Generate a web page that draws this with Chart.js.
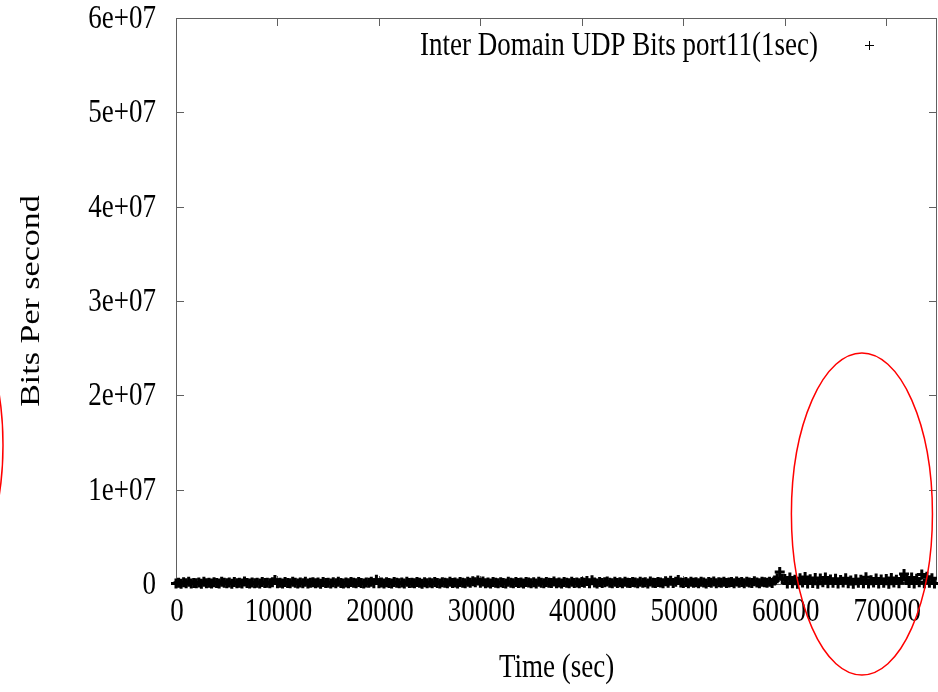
<!DOCTYPE html>
<html>
<head>
<meta charset="utf-8">
<script src="https://cdn.jsdelivr.net/npm/chart.js@4.4.1/dist/chart.umd.min.js"></script>
<style>
  html, body { margin: 0; padding: 0; background: #fff; }
  #wrap { width: 938px; height: 692px; }
</style>
</head>
<body>
<div id="wrap"><canvas id="udp-chart" width="938" height="692"></canvas></div>
<script>
var seriesLabel = "Inter Domain UDP Bits port11(1sec)";
var xTitle = "Time (sec)";
var yTitle = "Bits Per second";

// sample times (sec)
var times = [
  0,250,500,750,1000,1250,1500,1750,2000,2250,2500,2750,3000,3250,3500,3750,4000,4250,4500,4750,
  5000,5250,5500,5750,6000,6250,6500,6750,7000,7250,7500,7750,8000,8250,8500,8750,9000,9250,9500,9750,
  10000,10250,10500,10750,11000,11250,11500,11750,12000,12250,12500,12750,13000,13250,13500,13750,14000,14250,14500,14750,
  15000,15250,15500,15750,16000,16250,16500,16750,17000,17250,17500,17750,18000,18250,18500,18750,19000,19250,19500,19750,
  20000,20250,20500,20750,21000,21250,21500,21750,22000,22250,22500,22750,23000,23250,23500,23750,24000,24250,24500,24750,
  25000,25250,25500,25750,26000,26250,26500,26750,27000,27250,27500,27750,28000,28250,28500,28750,29000,29250,29500,29750,
  30000,30250,30500,30750,31000,31250,31500,31750,32000,32250,32500,32750,33000,33250,33500,33750,34000,34250,34500,34750,
  35000,35250,35500,35750,36000,36250,36500,36750,37000,37250,37500,37750,38000,38250,38500,38750,39000,39250,39500,39750,
  40000,40250,40500,40750,41000,41250,41500,41750,42000,42250,42500,42750,43000,43250,43500,43750,44000,44250,44500,44750,
  45000,45250,45500,45750,46000,46250,46500,46750,47000,47250,47500,47750,48000,48250,48500,48750,49000,49250,49500,49750,
  50000,50250,50500,50750,51000,51250,51500,51750,52000,52250,52500,52750,53000,53250,53500,53750,54000,54250,54500,54750,
  55000,55250,55500,55750,56000,56250,56500,56750,57000,57250,57500,57750,58000,58250,58500,58750,59000,59250,59500,59750,
  60000,60250,60500,60750,61000,61250,61500,61750,62000,62250,62500,62750,63000,63250,63500,63750,64000,64250,64500,64750,
  65000,65250,65500,65750,66000,66250,66500,66750,67000,67250,67500,67750,68000,68250,68500,68750,69000,69250,69500,69750,
  70000,70250,70500,70750,71000,71250,71500,71750,72000,72250,72500,72750,73000,73250,73500,73750,74000,74250,74500,74750
];

// bits per second at each sample
var bitsPerSec = [
  60000,120000,30000,180000,90000,250000,40000,110000,70000,160000,20000,230000,80000,130000,50000,190000,100000,60000,240000,140000,
  70000,150000,30000,210000,90000,120000,60000,260000,110000,40000,170000,80000,130000,50000,220000,100000,140000,70000,180000,420000,
  90000,140000,50000,200000,110000,70000,230000,130000,40000,160000,90000,250000,60000,120000,180000,80000,150000,30000,210000,100000,
  130000,60000,190000,90000,240000,110000,50000,170000,80000,220000,140000,70000,200000,100000,40000,160000,120000,230000,90000,450000,
  80000,150000,40000,190000,110000,60000,210000,130000,90000,170000,50000,240000,100000,140000,70000,200000,120000,30000,180000,90000,
  160000,70000,220000,110000,50000,190000,130000,80000,250000,100000,150000,60000,210000,120000,90000,230000,140000,300000,180000,380000,
  120000,260000,90000,170000,60000,210000,140000,80000,190000,110000,50000,230000,130000,70000,200000,100000,160000,40000,220000,150000,
  90000,180000,60000,240000,120000,70000,200000,140000,100000,260000,80000,170000,50000,210000,130000,90000,230000,110000,160000,70000,
  200000,120000,330000,90000,410000,150000,60000,220000,100000,180000,270000,130000,80000,240000,110000,190000,70000,250000,140000,100000,
  210000,160000,80000,230000,120000,190000,60000,260000,140000,100000,220000,170000,90000,300000,130000,350000,110000,240000,430000,150000,
  100000,200000,70000,250000,130000,180000,90000,230000,150000,60000,210000,120000,270000,80000,190000,140000,240000,100000,170000,220000,
  90000,260000,130000,200000,70000,240000,150000,110000,280000,160000,90000,230000,190000,120000,250000,100000,360000,620000,1270000,540000,
  520000,40000,680000,90000,450000,20000,610000,150000,730000,60000,500000,110000,640000,30000,580000,180000,700000,70000,470000,130000,
  560000,50000,420000,160000,620000,80000,380000,20000,510000,140000,450000,90000,720000,40000,400000,170000,590000,60000,480000,120000,
  530000,30000,640000,150000,460000,70000,570000,1060000,420000,100000,680000,40000,550000,190000,1020000,80000,760000,120000,600000,50000
];

var xTicks = [0, 10000, 20000, 30000, 40000, 50000, 60000, 70000];
var yTicks = [0, 10000000, 20000000, 30000000, 40000000, 50000000, 60000000];

// red hand-drawn ellipses, in data units: [centerTime, centerBits, halfTime, halfBits]
var ellipses = [
  [67600, 7420000, 6950, 17070000],
  [-23950, 14740000, 6900, 16000000]
];

var serif = "'Liberation Serif', 'DejaVu Serif', serif";
var stretch = 1.26; // the picture's lettering is taller than it is wide

function formatExp(v) {
  if (v === 0) return '0';
  return v.toExponential().replace(/e\+(\d)$/, 'e+0$1');
}

function tallText(ctx, text, x, y, align, vertical) {
  ctx.save();
  ctx.translate(x, y);
  if (vertical) {
    ctx.rotate(-Math.PI / 2);
    ctx.scale(stretch, 1);
  } else {
    ctx.scale(1, stretch);
  }
  ctx.textAlign = align;
  ctx.textBaseline = 'middle';
  ctx.fillText(text, 0, 0);
  ctx.restore();
}

var gnuplotFrame = {
  id: 'gnuplotFrame',
  beforeDatasetsDraw: function(chart) {
    var ctx = chart.ctx, a = chart.chartArea;
    var xs = chart.scales.x, ys = chart.scales.y;
    ctx.save();
    ctx.strokeStyle = '#606060';
    ctx.lineWidth = 1;
    ctx.strokeRect(a.left + 0.5, a.top + 0.5, a.right - a.left - 1, a.bottom - a.top);
    ctx.beginPath();
    yTicks.forEach(function(t) {
      var py = Math.round(ys.getPixelForValue(t)) + 0.5;
      ctx.moveTo(a.left, py); ctx.lineTo(a.left + 8, py);
      ctx.moveTo(a.right, py); ctx.lineTo(a.right - 8, py);
    });
    xTicks.forEach(function(t) {
      var px = Math.round(xs.getPixelForValue(t)) + 0.5;
      ctx.moveTo(px, a.bottom); ctx.lineTo(px, a.bottom - 8);
      ctx.moveTo(px, a.top); ctx.lineTo(px, a.top + 8);
    });
    ctx.stroke();

    // tick labels and axis titles
    ctx.fillStyle = '#000';
    ctx.font = '27px ' + serif;
    yTicks.forEach(function(t) {
      tallText(ctx, formatExp(t), 156, ys.getPixelForValue(t) + 1, 'right');
    });
    xTicks.forEach(function(t) {
      tallText(ctx, String(t), xs.getPixelForValue(t) + 1, 612, 'center');
    });
    tallText(ctx, xTitle, (a.left + a.right) / 2, 668, 'center');
    tallText(ctx, yTitle, 32, (a.top + a.bottom) / 2, 'center', true);
    ctx.restore();
  },
  afterDraw: function(chart) {
    var ctx = chart.ctx;
    var xs = chart.scales.x, ys = chart.scales.y;
    ctx.save();
    // key
    ctx.font = '27px ' + serif;
    ctx.fillStyle = '#000';
    tallText(ctx, seriesLabel, 818, 46, 'right');
    ctx.strokeStyle = '#000';
    ctx.lineWidth = 1;
    ctx.beginPath();
    ctx.moveTo(865, 45.5); ctx.lineTo(874, 45.5);
    ctx.moveTo(869.5, 41); ctx.lineTo(869.5, 50);
    ctx.stroke();
    // red ellipses
    ctx.strokeStyle = '#ff0000';
    ctx.lineWidth = 1.5;
    ellipses.forEach(function(e) {
      var cx = xs.getPixelForValue(e[0]);
      var cy = ys.getPixelForValue(e[1]);
      var rx = xs.getPixelForValue(e[0] + e[2]) - cx;
      var ry = cy - ys.getPixelForValue(e[1] + e[3]);
      ctx.beginPath();
      ctx.ellipse(cx, cy, rx, ry, 0, 0, Math.PI * 2);
      ctx.stroke();
    });
    ctx.restore();
  }
};

function buildPoints(xs, ys) {
  return xs.map(function(t, i) { return { x: t, y: ys[i] }; });
}

new Chart(document.getElementById('udp-chart'), {
  type: 'scatter',
  data: {
    datasets: [{
      label: seriesLabel,
      data: buildPoints(times, bitsPerSec),
      pointStyle: 'cross',
      pointRadius: 5,
      pointBorderWidth: 3,
      borderColor: '#000',
      backgroundColor: '#000',
      clip: false
    }]
  },
  options: {
    responsive: false,
    animation: false,
    layout: { autoPadding: false, padding: { top: 18, right: 1, left: 0, bottom: 0 } },
    plugins: { legend: { display: false }, tooltip: { enabled: false } },
    scales: {
      x: {
        type: 'linear',
        min: 0,
        max: 75000,
        afterBuildTicks: function(s) { s.ticks = xTicks.map(function(v) { return { value: v }; }); },
        afterFit: function(s) { s.height = 108; },
        grid: { display: false, drawTicks: false },
        border: { display: false },
        ticks: { display: false }
      },
      y: {
        min: 0,
        max: 60000000,
        afterBuildTicks: function(s) { s.ticks = yTicks.map(function(v) { return { value: v }; }); },
        afterFit: function(s) { s.width = 176; },
        grid: { display: false, drawTicks: false },
        border: { display: false },
        ticks: { display: false }
      }
    }
  },
  plugins: [gnuplotFrame]
});
</script>
</body>
</html>
